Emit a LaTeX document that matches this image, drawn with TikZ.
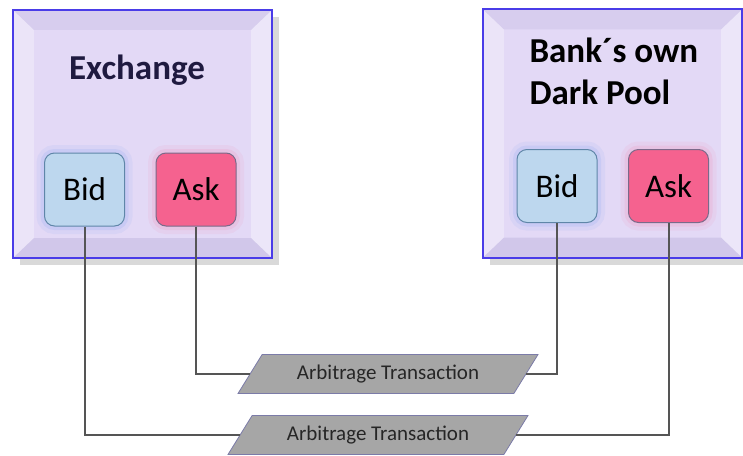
\documentclass[tikz,border=0pt]{standalone}
\usepackage{fontspec}
\setmainfont{Carlito}
\usepackage{xcolor}
\usetikzlibrary{calc, shapes.geometric, shadows}

\definecolor{panelfill}{HTML}{E3D9F6}
\definecolor{panelline}{HTML}{4A3CE8}
\definecolor{bidfill}{HTML}{BDD7EE}
\definecolor{bidline}{HTML}{5F86A8}
\definecolor{bidglow}{HTML}{8FA8F0}
\definecolor{askfill}{HTML}{F5628F}
\definecolor{askline}{HTML}{7A6A8A}
\definecolor{askglow}{HTML}{F08FB8}
\definecolor{tradefill}{HTML}{A6A6A6}
\definecolor{tradeline}{HTML}{7B7BA8}
\definecolor{wirecol}{HTML}{555555}
\definecolor{titlecol}{HTML}{1F1A40}

% bevelled frame of a panel node
\newcommand{\bevel}[1]{
    \fill[white, opacity=0.3] (#1.north west) -- ($(#1.north west)+(21,20)$)
        -- ($(#1.south west)+(21,-20)$) -- (#1.south west) -- cycle;
    \fill[white, opacity=0.35] (#1.north east) -- ($(#1.north east)+(-21,20)$)
        -- ($(#1.south east)+(-21,-20)$) -- (#1.south east) -- cycle;
    \fill[black!60!blue, opacity=0.05] (#1.north west) -- ($(#1.north west)+(21,20)$)
        -- ($(#1.north east)+(-21,20)$) -- (#1.north east) -- cycle;
    \fill[black!60!blue, opacity=0.08] (#1.south west) -- ($(#1.south west)+(21,-20)$)
        -- ($(#1.south east)+(-21,-20)$) -- (#1.south east) -- cycle;
    \draw[panelline, line width=2pt] (#1.north west) rectangle (#1.south east);
}

\tikzset{
    panel/.style = {fill=panelfill, minimum width=259pt, minimum height=248pt, inner sep=0pt,
        drop shadow={shadow xshift=7pt, shadow yshift=-7pt, fill=black!25, opacity=0.6}},
    title/.style = {font=\fontsize{35}{42}\selectfont\bfseries, align=left},
    quote/.style = {draw, rounded corners=10pt, minimum width=80pt, minimum height=73pt,
        line width=1pt, font=\fontsize{33}{35}\selectfont},
    bid/.style = {quote, fill=bidfill, draw=bidline,
        preaction={draw=bidglow, line width=16pt, opacity=0.12},
        preaction={draw=bidglow, line width=8pt, opacity=0.2}},
    ask/.style = {quote, fill=askfill, draw=askline,
        preaction={draw=askglow, line width=16pt, opacity=0.12},
        preaction={draw=askglow, line width=8pt, opacity=0.2}},
    trade/.style = {trapezium, trapezium left angle=37, trapezium right angle=143,
        trapezium stretches body, minimum width=300pt, minimum height=39pt, inner sep=0pt,
        fill=tradefill, draw=tradeline, line width=0.8pt,
        font=\fontsize{21}{23}\selectfont, text=black!85},
    wire/.style = {draw=wirecol, line width=2pt},
}

\begin{document}
\begin{tikzpicture}[x=1pt, y=-1pt]
    \useasboundingbox (0,0) rectangle (743,455);

    % the two venues
    \node[panel] (exch) at (142.5,134) {};
    \bevel{exch}
    \node[panel] (pool) at (612.5,133.5) {};
    \bevel{pool}

    \node[title, text=titlecol] (exchTitle) at (137,70) {Exchange};
    \node[title, anchor=west]   (poolTitle) at (526,71) {Bank´s own\\Dark Pool};

    \node[bid] (exBid)   at (84.5,189.5) {Bid};
    \node[ask] (exAsk)   at (196,189.5)  {Ask};
    \node[bid] (poolBid) at (557,186)    {Bid};
    \node[ask] (poolAsk) at (668.5,186)  {Ask};

    % the two trades
    \node[trade] (trade1) at (388,374) {Arbitrage Transaction};
    \node[trade] (trade2) at (378,435) {Arbitrage Transaction};

    \draw[wire] (exAsk.south)   |- (trade1.west);
    \draw[wire] (poolBid.south) |- (trade1.east);
    \draw[wire] (exBid.south)   |- (trade2.west);
    \draw[wire] (poolAsk.south) |- (trade2.east);
\end{tikzpicture}
\end{document}
